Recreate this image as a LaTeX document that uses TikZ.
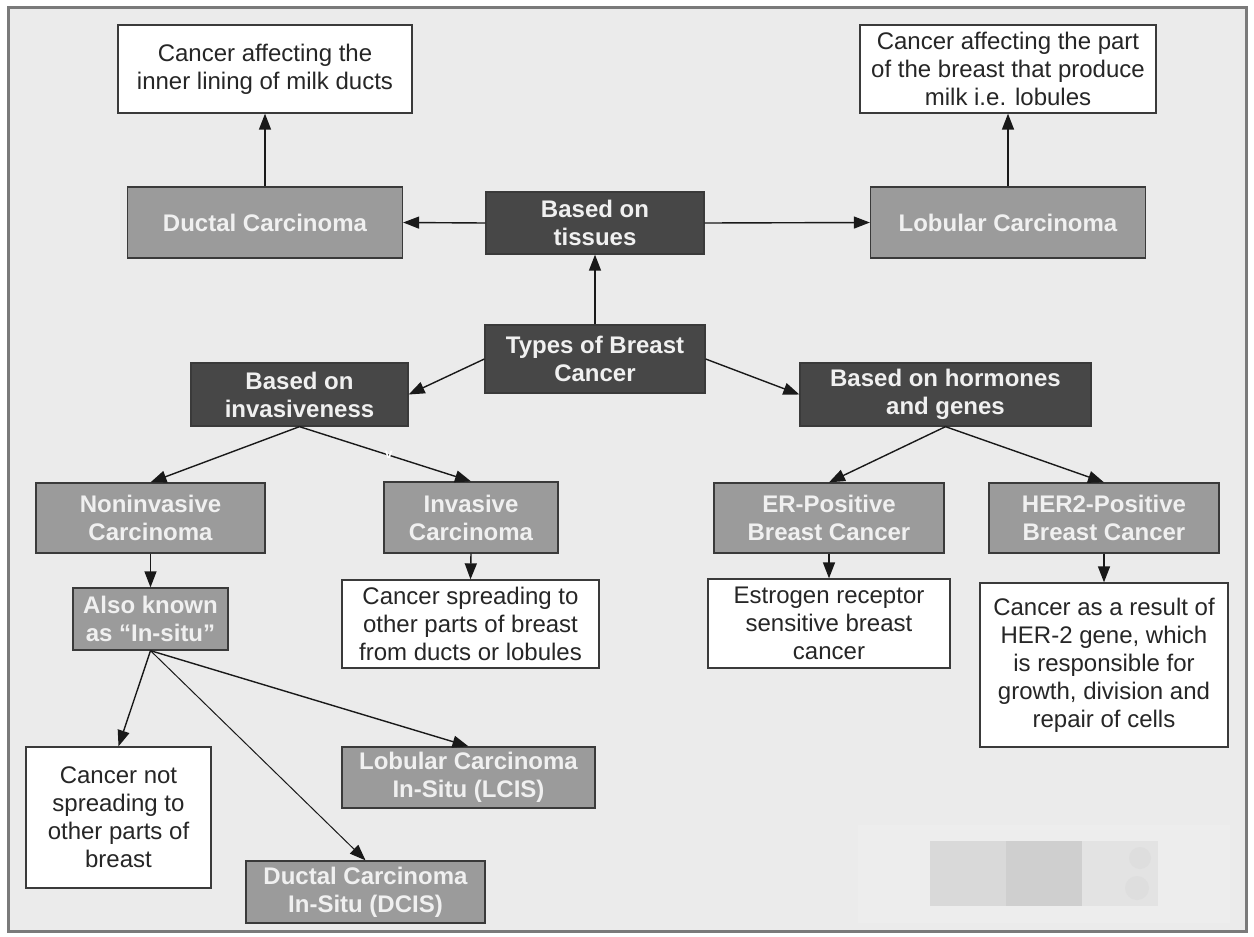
\documentclass[tikz,border=0pt]{standalone}
\usepackage{fontspec}
\setmainfont{Liberation Sans}
\usetikzlibrary{arrows.meta}
\definecolor{paper}{HTML}{EBEBEB}
\definecolor{framegray}{HTML}{7A7A7A}
\definecolor{darkfill}{HTML}{474747}
\definecolor{midfill}{HTML}{9B9B9B}
\definecolor{boxline}{HTML}{3A3A3A}
\definecolor{lighttext}{HTML}{F0F0F0}
\definecolor{blurpale}{HTML}{EDEDED}
\begin{document}
\begin{tikzpicture}[x=1pt,y=-1pt,
		dims/.style 2 args={minimum width=#1pt,minimum height=#2pt},
		basebox/.style={rectangle,draw=boxline,line width=1.3pt,align=center,inner sep=1pt,font=\fontsize{24}{28}\selectfont},
		darkbox/.style={basebox,fill=darkfill,text=lighttext,font=\fontsize{24}{28}\selectfont\bfseries},
		midbox/.style={basebox,fill=midfill,text=lighttext,font=\fontsize{24}{28}\selectfont\bfseries},
		notebox/.style={basebox,fill=white,text=black!85},
		link/.style={-{Triangle[length=16pt,width=12pt]},line width=1.4pt,black!90}]
		\useasboundingbox (0,0) rectangle (1254,937);
		\fill[white] (0,0) rectangle (1254,937);
		\draw[framegray,line width=3pt,fill=paper] (8,7) rectangle (1246,931);
		\fill[blurpale] (858,825) rectangle (1230,923);
		\fill[black!15] (930,841) rectangle (1006,906);
		\fill[black!19] (1006,841) rectangle (1082,906);
		\fill[black!11] (1082,841) rectangle (1158,906);
		\fill[black!13] (1140,858) circle (11) (1137,888) circle (12);

		\node[notebox,dims={294}{88}]		at (265,69)		(ductnote)	{Cancer affecting the\\inner lining of milk ducts};
		\node[notebox,dims={296}{88}]		at (1008,69)	(lobnote)	{Cancer affecting the part\\of the breast that produce\\milk i.e. lobules};
		\node[midbox,dims={275}{71}]		at (265,222.5)	(ductal)	{Ductal Carcinoma};
		\node[darkbox,dims={218}{62}]		at (595,223)	(tissues)	{Based on\\tissues};
		\node[midbox,dims={275}{71}]		at (1008,222.5)	(lobular)	{Lobular Carcinoma};
		\node[darkbox,dims={220}{68}]		at (595,359)	(types)		{Types of Breast\\Cancer};
		\node[darkbox,dims={217}{63}]		at (299.5,394.5)	(invas)	{Based on\\invasiveness};
		\node[darkbox,dims={291}{63}]		at (945.5,394.5)	(hormones)	{Based on hormones\\and genes};
		\node[midbox,dims={229}{70}]		at (150.5,518)	(noninv)	{Noninvasive\\Carcinoma};
		\node[midbox,dims={174}{71}]		at (471,517.5)	(inv)		{Invasive\\Carcinoma};
		\node[midbox,dims={230}{70}]		at (829,518)	(erpos)		{ER-Positive\\Breast Cancer};
		\node[midbox,dims={230}{70}]		at (1104,518)	(herpos)	{HER2-Positive\\Breast Cancer};
		\node[midbox,dims={155}{62}]		at (150.5,619)	(insitu)	{Also known\\as “In-situ”};
		\node[notebox,dims={257}{88}]		at (470.5,624)	(spreadnote)	{Cancer spreading to\\other parts of breast\\from ducts or lobules};
		\node[notebox,dims={242}{89}]		at (829,623.5)	(ernote)	{Estrogen receptor\\sensitive breast\\cancer};
		\node[notebox,dims={248}{164}]		at (1104,665)	(hernote)	{Cancer as a result of\\HER-2 gene, which\\is responsible for\\growth, division and\\repair of cells};
		\node[notebox,dims={185}{141}]		at (118.5,817.5)	(nospread)	{Cancer not\\spreading to\\other parts of\\breast};
		\node[midbox,dims={253}{61}]		at (468.5,777.5)	(lcis)		{Lobular Carcinoma\\In-Situ (LCIS)};
		\node[midbox,dims={239}{62}]		at (365.5,892)	(dcis)		{Ductal Carcinoma\\In-Situ (DCIS)};

		\draw[link] (tissues.west) -- (ductal.east);
		\draw[link] (tissues.east) -- (lobular.west);
		\draw[link] (ductal.north) -- (ductnote.south);
		\draw[link] (lobular.north) -- (lobnote.south);
		\draw[link] (types.north) -- (tissues.south);
		\draw[link] (types.west) -- (invas.east);
		\draw[link] (types.east) -- (hormones.west);
		\draw[link] (invas.south) -- (noninv.north);
		\draw[link] (invas.south) -- node[pos=0.52,text=white,font=\fontsize{14}{14}\selectfont\bfseries,inner sep=0pt] (vmark) {v} (inv.north);
		\draw[link] (hormones.south) -- (erpos.north);
		\draw[link] (hormones.south) -- (herpos.north);
		\draw[link] (noninv.south) -- (insitu.north);
		\draw[link] (inv.south) -- (spreadnote.north);
		\draw[link] (erpos.south) -- (ernote.north);
		\draw[link] (herpos.south) -- (hernote.north);
		\draw[link] (insitu.south) -- (nospread.north);
		\draw[link] (insitu.south) -- (lcis.north);
		\draw[link,line width=1pt] (insitu.south) -- (dcis.north);
	\end{tikzpicture}
\end{document}
